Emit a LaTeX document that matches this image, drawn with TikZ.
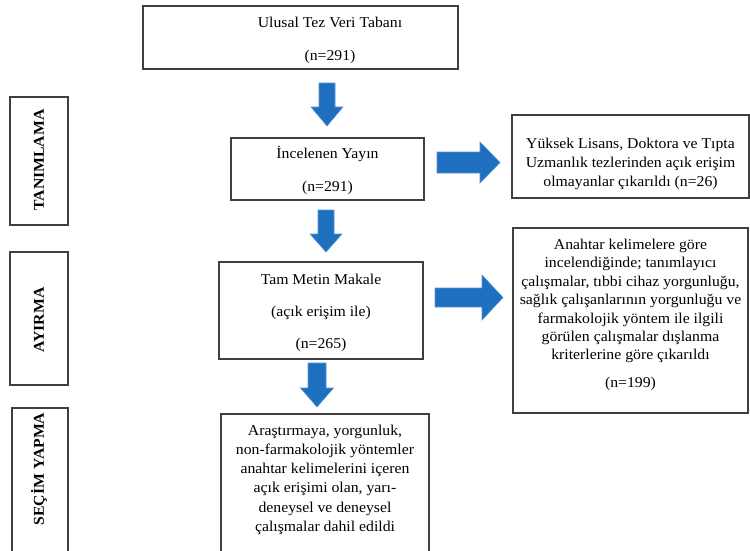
\documentclass[tikz,border=0pt]{standalone}
\usepackage{fontspec}
\setmainfont{Liberation Serif}[FakeStretch=1.05]
\definecolor{arrowblue}{HTML}{1F6FC0}
\definecolor{edge}{HTML}{404040}
\tikzset{
  box/.style={draw=edge, line width=1.1pt, rectangle, inner sep=0pt, align=center, font=\rmfamily\fontsize{15}{18.4}\selectfont},
  side/.style={draw=edge, line width=1.1pt, rectangle, inner sep=0pt},
  sidetext/.style={rotate=90, inner sep=0pt, font=\rmfamily\fontsize{15}{17}\selectfont\bfseries},
  txt/.style={align=center, inner sep=0pt, font=\rmfamily\fontsize{15}{18.4}\selectfont},
  blockarrow/.style={fill=arrowblue, draw=arrowblue!75!white, line width=0.6pt}
}
\begin{document}
\begin{tikzpicture}[x=1pt,y=-1pt]
\useasboundingbox (0,0) rectangle (750,550);
\clip (0,0) rectangle (750,550);
% left phase boxes
\node[side, minimum width=58, minimum height=128] (p1) at (39,161) {};
\node[sidetext] (p1t) at (39,160) {TANIMLAMA};
\node[side, minimum width=58, minimum height=133] (p2) at (39,318.5) {};
\node[sidetext] (p2t) at (39,320) {AYIRMA};
\node[side, minimum width=56, minimum height=144] (p3) at (40,480) {};
\node[sidetext] (p3t) at (39,469) {SEÇİM YAPMA};
% main column
\node[side, minimum width=315, minimum height=63] (db) at (300.5,37.5) {};
\node[txt] (dbt) at (330,40) {Ulusal Tez Veri Tabanı\\[14.5pt](n=291)};
\node[box, minimum width=193, minimum height=62] (inc) at (327.5,169) {\rule{0pt}{15pt}İncelenen Yayın\\[14.5pt](n=291)};
\node[box, minimum width=204, minimum height=97] (tam) at (321,310.5) {\rule{0pt}{15pt}Tam Metin Makale\\[14pt](açık erişim ile)\\[14pt](n=265)};
\node[box, minimum width=208, minimum height=138, font=\rmfamily\fontsize{15}{19.2}\selectfont] (sec) at (325,483) {Araştırmaya, yorgunluk,\\non-farmakolojik yöntemler\\anahtar kelimelerini içeren\\açık erişimi olan, yarı-\\deneysel ve deneysel\\\rule[-10pt]{0pt}{10pt}çalışmalar dahil edildi};
% right column
\node[box, minimum width=237, minimum height=83, font=\rmfamily\fontsize{15}{19}\selectfont] (ex1) at (630.5,156.5) {\rule{0pt}{26pt}Yüksek Lisans, Doktora ve Tıpta\\Uzmanlık tezlerinden açık erişim\\olmayanlar çıkarıldı (n=26)};
\node[box, minimum width=235, minimum height=185] (ex2) at (630.5,320.5) {Anahtar kelimelere göre\\incelendiğinde; tanımlayıcı\\çalışmalar, tıbbi cihaz yorgunluğu,\\sağlık çalışanlarının yorgunluğu ve\\farmakolojik yöntem ile ilgili\\görülen çalışmalar dışlanma\\kriterlerine göre çıkarıldı\\[9.5pt]\rule[-14pt]{0pt}{14pt}(n=199)};
% block arrows
\fill[blockarrow] (319,83) -- (335,83) -- (335,107) -- (343,107) -- (327,126) -- (311,107) -- (319,107) -- cycle;
\fill[blockarrow] (318,210) -- (334,210) -- (334,234) -- (342,234) -- (326,252) -- (310,234) -- (318,234) -- cycle;
\fill[blockarrow] (308,363) -- (326,363) -- (326,388) -- (333.5,388) -- (317,407) -- (300.5,388) -- (308,388) -- cycle;
\fill[blockarrow] (437,152) -- (480,152) -- (480,142) -- (500,162.5) -- (480,183) -- (480,173) -- (437,173) -- cycle;
\fill[blockarrow] (435,288) -- (482,288) -- (482,275) -- (503,297.5) -- (482,320) -- (482,307) -- (435,307) -- cycle;
\end{tikzpicture}
\end{document}
